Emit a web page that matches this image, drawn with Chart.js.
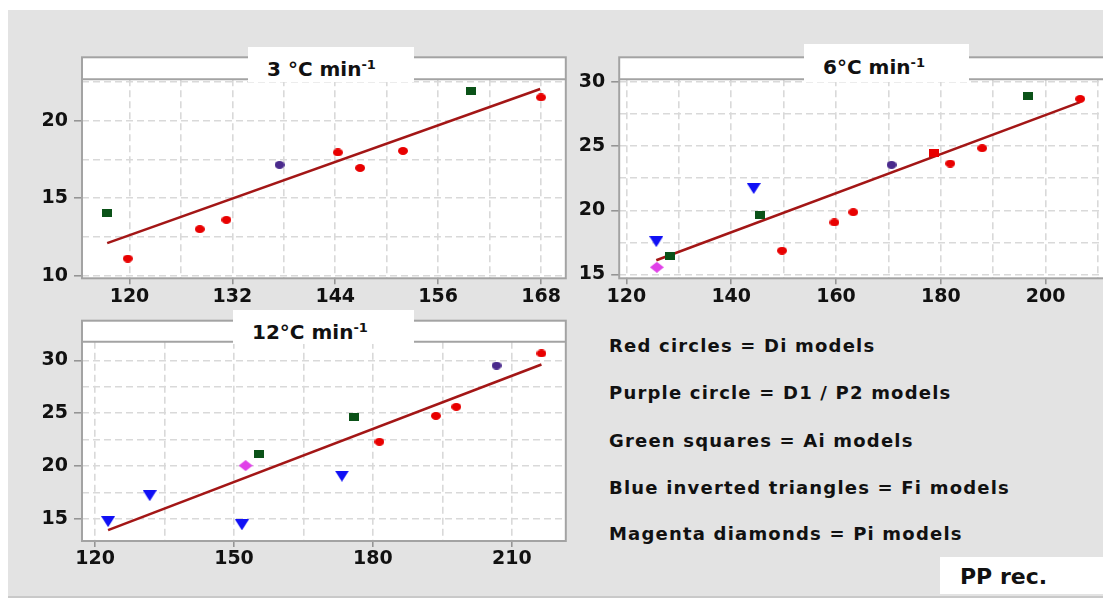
<!DOCTYPE html>
<html><head><meta charset="utf-8">
<script src="https://cdn.jsdelivr.net/npm/chart.js@4.4.0/dist/chart.umd.min.js"></script>
<style>
html,body{margin:0;padding:0;width:1103px;height:599px;overflow:hidden;background:#fff;font-family:"DejaVu Sans",sans-serif;}
#bg{position:absolute;left:8px;top:10px;width:1100px;height:586px;background:#e3e3e3;border-bottom:2px solid #c9c9c9;}
.panel{position:absolute;}
.tab{position:absolute;background:#fff;font-weight:bold;font-size:20px;color:#111;padding-left:19px;box-sizing:border-box;line-height:24px;white-space:nowrap;}
.tab sup{font-size:13px;line-height:0;vertical-align:7px;}
.legend{position:absolute;left:609px;font-weight:bold;font-size:18px;letter-spacing:1.2px;color:#111;white-space:nowrap;line-height:24px;}
#pp{position:absolute;left:940px;top:557px;width:200px;height:37px;background:#fff;font-weight:bold;font-size:22px;color:#111;line-height:26px;padding:7px 0 0 20px;box-sizing:border-box;}
</style>
</head><body>
<div id="bg"></div>
<div class="panel" style="left:0;top:40px;width:590px;height:275px;"><canvas id="c1" width="590" height="275"></canvas></div>
<div class="panel" style="left:540px;top:40px;width:600px;height:275px;"><canvas id="c2" width="600" height="275"></canvas></div>
<div class="panel" style="left:0;top:300px;width:590px;height:280px;"><canvas id="c3" width="590" height="280"></canvas></div>
<div class="tab" style="left:248px;top:47px;width:166px;height:35px;padding-top:10px;">3 °C min<sup>-1</sup></div>
<div class="tab" style="left:804px;top:44px;width:165px;height:38px;padding-top:11px;">6°C min<sup>-1</sup></div>
<div class="tab" style="left:233px;top:310px;width:181px;height:34px;padding-top:10px;">12°C min<sup>-1</sup></div>
<div class="legend" style="top:334px;">Red circles = Di models</div>
<div class="legend" style="top:381px;">Purple circle = D1 / P2 models</div>
<div class="legend" style="top:429px;">Green squares = Ai models</div>
<div class="legend" style="top:476px;">Blue inverted triangles = Fi models</div>
<div class="legend" style="top:522px;">Magenta diamonds = Pi models</div>
<div id="pp">PP rec.</div>
<script>
// ---------- Panel 1: 3 °C min-1 ----------
const p1RedX = [119.8, 128.2, 131.3, 144.3, 146.9, 151.9, 168.0];
const p1RedY = [11.1, 13.0, 13.6, 17.95, 16.95, 18.05, 21.5];
const p1PurpleX = [137.5];
const p1PurpleY = [17.15];
const p1GreenX = [117.4, 159.8];
const p1GreenY = [14.05, 21.9];
const p1TrendX = [117.4, 167.9];
const p1TrendY = [12.1, 22.05];
const p1GridX = [120, 126, 132, 138, 144, 150, 156, 162, 168];
const p1LabelX = [120, 132, 144, 156, 168];
const p1GridY = [10, 12.5, 15, 17.5, 20, 22.5];
const p1LabelY = [10, 15, 20];

// ---------- Panel 2: 6 °C min-1 ----------
const p2RedX = [149.7, 159.7, 163.3, 178.8, 181.8, 187.9, 206.6];
const p2RedY = [16.85, 19.05, 19.85, 24.45, 23.65, 24.85, 28.7];
const p2PurpleX = [170.6];
const p2PurpleY = [23.55];
const p2GreenX = [128.4, 145.4, 196.7];
const p2GreenY = [16.45, 19.6, 28.95];
const p2BlueX = [125.7, 144.3];
const p2BlueY = [17.55, 21.7];
const p2MagentaX = [125.8];
const p2MagentaY = [15.55];
const p2TrendX = [125.7, 206.6];
const p2TrendY = [16.1, 28.45];
const p2GridX = [120, 130, 140, 150, 160, 170, 180, 190, 200, 210];
const p2LabelX = [120, 140, 160, 180, 200];
const p2GridY = [15, 17.5, 20, 22.5, 25, 27.5, 30];
const p2LabelY = [15, 20, 25, 30];

// ---------- Panel 3: 12 °C min-1 ----------
const p3RedX = [181.4, 193.6, 198.0, 216.4];
const p3RedY = [22.3, 24.75, 25.6, 30.65];
const p3PurpleX = [206.7];
const p3PurpleY = [29.5];
const p3GreenX = [155.3, 176.0];
const p3GreenY = [21.1, 24.65];
const p3BlueX = [122.8, 131.8, 151.7, 173.3];
const p3BlueY = [14.75, 17.2, 14.45, 19.05];
const p3MagentaX = [152.5];
const p3MagentaY = [20.05];
const p3TrendX = [122.8, 216.4];
const p3TrendY = [13.95, 29.6];
const p3GridX = [120, 135, 150, 165, 180, 195, 210];
const p3LabelX = [120, 150, 180, 210];
const p3GridY = [15, 17.5, 20, 22.5, 25, 27.5, 30];
const p3LabelY = [15, 20, 25, 30];

function pts(xs, ys){ return xs.map((x,i)=>({x:x, y:ys[i]})); }

function marker(shape, w, h, color){
  const c = document.createElement('canvas'); c.width = w; c.height = h;
  const g = c.getContext('2d'); g.fillStyle = color; g.beginPath();
  if (shape === 'circle') g.ellipse(w/2, h/2, w/2, h/2, 0, 0, Math.PI*2);
  else if (shape === 'rect') g.rect(0, 0, w, h);
  else if (shape === 'tri') { g.moveTo(0,0); g.lineTo(w,0); g.lineTo(w/2,h); g.closePath(); }
  else if (shape === 'diamond') { g.moveTo(w/2,0); g.lineTo(w,h/2); g.lineTo(w/2,h); g.lineTo(0,h/2); g.closePath(); }
  g.fill(); return c;
}
const mRed = marker('circle', 10, 8, '#e80000');
const mRedSq = marker('rect', 10, 8, '#e80000');
const mPurple = marker('circle', 10, 8, '#4a2a8c');
const mGreen = marker('rect', 10, 8, '#0b5218');
const mBlue = marker('tri', 14, 11, '#1010f5');
const mMagenta = marker('diamond', 14, 11, '#e040e8');

const framePlugin = {
  id: 'frame',
  beforeDraw(chart, args, opts){
    const {ctx, chartArea:a} = chart;
    ctx.save(); ctx.fillStyle = '#fff';
    ctx.fillRect(a.left, a.top - opts.strip, a.right - a.left, a.bottom - a.top + opts.strip);
    ctx.restore();
  },
  afterDatasetsDraw(chart, args, opts){
    const {ctx, chartArea:a} = chart;
    ctx.save(); ctx.strokeStyle = '#a3a3a3'; ctx.lineWidth = 2;
    ctx.strokeRect(a.left, a.top - opts.strip, a.right - a.left, a.bottom - a.top + opts.strip);
    ctx.beginPath(); ctx.moveTo(a.left, a.top); ctx.lineTo(a.right, a.top); ctx.stroke();
    ctx.restore();
  }
};

const tickFont = {family:'DejaVu Sans', size:19, weight:'bold'};

function axis(min, max, grid, labels, horizontal, fitSize){
  return {
    type:'linear', min:min, max:max,
    afterBuildTicks: a => { a.ticks = grid.map(v => ({value:v})); },
    afterFit: s => { if (horizontal) s.height = fitSize; else s.width = fitSize; },
    border:{display:false, dash:[7,4]},
    grid:{
      color:'#d9d9d9', lineWidth:1.6, drawTicks:true,
      tickLength: horizontal ? 6 : 8, tickWidth:1.5,
      tickColor: ctx => (ctx.tick && labels.includes(ctx.tick.value)) ? '#909090' : 'rgba(0,0,0,0)'
    },
    ticks:{
      font:tickFont, color:'#111', padding: horizontal ? 1 : 6,
      maxRotation:0, autoSkip:false,
      callback: v => labels.includes(v) ? String(v) : ''
    }
  };
}

function makeChart(id, sets, xs, ys, pad, strip){
  const ds = [];
  const add = (xArr, yArr, style) => { if (xArr) ds.push({type:'scatter', data:pts(xArr,yArr), pointStyle:style, pointRadius:5, order:1}); };
  add(sets.redX, sets.redY, sets.redStyle || mRed);
  add(sets.purpleX, sets.purpleY, mPurple);
  add(sets.greenX, sets.greenY, mGreen);
  add(sets.blueX, sets.blueY, mBlue);
  add(sets.magentaX, sets.magentaY, mMagenta);
  ds.push({type:'line', data:pts(sets.trendX, sets.trendY), borderColor:'#a31616', borderWidth:2.6, pointRadius:0, fill:false, order:5});
  return new Chart(document.getElementById(id), {
    type:'scatter',
    data:{datasets:ds},
    options:{
      responsive:false, animation:false, devicePixelRatio:1,
      layout:{padding:pad},
      plugins:{legend:{display:false}, tooltip:{enabled:false}, frame:{strip:strip}},
      scales:{x:xs, y:ys}
    },
    plugins:[framePlugin]
  });
}

makeChart('c1',
  {redX:p1RedX, redY:p1RedY, purpleX:p1PurpleX, purpleY:p1PurpleY, greenX:p1GreenX, greenY:p1GreenY, trendX:p1TrendX, trendY:p1TrendY},
  axis(114.46, 170.89, p1GridX, p1LabelX, true, 36.7),
  axis(9.83, 22.67, p1GridY, p1LabelY, false, 82),
  {left:0, top:39.3, right:24.2, bottom:0}, 22);

makeChart('c2',
  {redX:p2RedX, redY:p2RedY, redStyle:p2RedX.map((x,i)=> i===3 ? mRedSq : mRed),
   purpleX:p2PurpleX, purpleY:p2PurpleY, greenX:p2GreenX, greenY:p2GreenY,
   blueX:p2BlueX, blueY:p2BlueY, magentaX:p2MagentaX, magentaY:p2MagentaY, trendX:p2TrendX, trendY:p2TrendY},
  axis(118.62, 212.3, p2GridX, p2LabelX, true, 36.7),
  axis(14.69, 30.23, p2GridY, p2LabelY, false, 79.2),
  {left:0, top:39.3, right:30, bottom:0}, 22);

makeChart('c3',
  {redX:p3RedX, redY:p3RedY, purpleX:p3PurpleX, purpleY:p3PurpleY, greenX:p3GreenX, greenY:p3GreenY,
   blueX:p3BlueX, blueY:p3BlueY, magentaX:p3MagentaX, magentaY:p3MagentaY, trendX:p3TrendX, trendY:p3TrendY},
  axis(117.17, 221.66, p3GridX, p3LabelX, true, 39),
  axis(12.92, 31.76, p3GridY, p3LabelY, false, 82),
  {left:0, top:41.7, right:24.2, bottom:0}, 21);
</script>
</body></html>
